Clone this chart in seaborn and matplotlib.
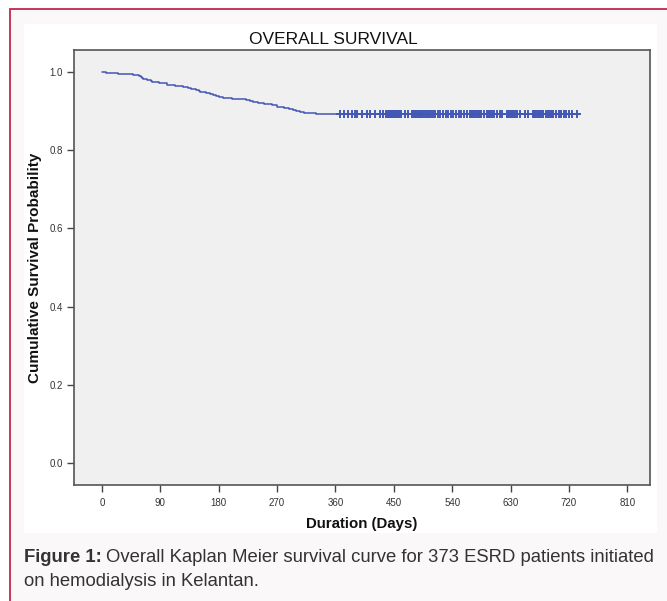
import matplotlib
matplotlib.use("Agg")
import matplotlib.pyplot as plt
from matplotlib.patches import Rectangle
from matplotlib.lines import Line2D
import seaborn as sns
import pandas as pd

# ---- data ----
death_days = [0, 6, 25, 48, 57, 60, 62, 64, 70, 76, 78, 88, 100, 112, 125, 132, 138,
              145, 149, 151, 160, 166, 171, 176, 181, 186, 200, 222, 228, 233, 240,
              250, 262, 270, 280, 289, 294, 299, 305, 312, 330, 732]
survival = [1.0, 0.9973, 0.9946, 0.9920, 0.9893, 0.9866, 0.9839, 0.9812, 0.9786,
            0.9759, 0.9732, 0.9705, 0.9678, 0.9651, 0.9625, 0.9598, 0.9571, 0.9544,
            0.9517, 0.9491, 0.9464, 0.9437, 0.9410, 0.9383, 0.9357, 0.9330, 0.9303,
            0.9276, 0.9249, 0.9223, 0.9196, 0.9169, 0.9142, 0.9115, 0.9088, 0.9062,
            0.9035, 0.9008, 0.8981, 0.8954, 0.8928, 0.8928]
censor_days = [367, 374, 379, 385, 390, 394, 401, 408, 413, 421, 428, 433,
               438, 440, 442, 443, 445, 446, 448, 449, 451, 452, 454, 455, 457, 458,
               460, 461, 467, 472,
               478, 480, 482, 485, 487, 489, 492, 494, 496, 500, 503, 505, 507, 511,
               514, 518, 522, 526, 530, 534, 538, 542, 546, 550, 554, 558, 563,
               567, 569, 570, 572, 574, 576, 578, 581, 583, 585, 589, 593, 595, 597,
               599, 601, 605, 609, 613, 617,
               624, 626, 628, 630, 632, 634, 636, 638, 640, 644, 652, 657,
               664, 666, 668, 670, 672, 674, 676, 678, 680, 684, 688, 690, 692, 694,
               696, 700, 704, 706, 708, 712, 716, 720, 724, 732]
censor_surv = 0.8928
x_ticks = [0, 90, 180, 270, 360, 450, 540, 630, 720, 810]
y_ticks = [0.0, 0.2, 0.4, 0.6, 0.8, 1.0]

title = "OVERALL SURVIVAL"
xlabel = "Duration (Days)"
ylabel = "Cumulative Survival Probability"

sns.set_theme(style="white")
plt.rcParams["font.family"] = ["Liberation Sans", "DejaVu Sans"]

W, H = 667, 601
fig = plt.figure(figsize=(W / 100, H / 100), dpi=100)
fig.patch.set_facecolor("#fbf8f9")

def fx(px):
    return px / W

def fy(py):
    return 1 - py / H

# white chart panel
fig.patches.append(Rectangle((fx(24), fy(533)), fx(657) - fx(24), fy(24) - fy(533),
                             transform=fig.transFigure, facecolor="white",
                             edgecolor="none", zorder=-10))
# outside the crimson border: white
fig.patches.append(Rectangle((0, 0), fx(9), 1, transform=fig.transFigure,
                             facecolor="white", edgecolor="none", zorder=-10))
fig.patches.append(Rectangle((0, fy(8)), 1, 1 - fy(8), transform=fig.transFigure,
                             facecolor="white", edgecolor="none", zorder=-10))
border_c = "#c7355a"
fig.lines.append(Line2D([fx(9.5), fx(9.5)], [0, fy(8.5)], transform=fig.transFigure,
                        color=border_c, lw=1.4, zorder=-5))
fig.lines.append(Line2D([fx(9.5), 1], [fy(8.5), fy(8.5)], transform=fig.transFigure,
                        color=border_c, lw=1.4, zorder=-5))

ax = fig.add_axes([fx(74), fy(485), fx(650) - fx(74), fy(50) - fy(485)])
ax.set_zorder(2)
ax.set_facecolor("#f0f0f0")

curve = pd.DataFrame({"day": death_days, "surv": survival})
cens = pd.DataFrame({"day": censor_days, "surv": [censor_surv] * len(censor_days)})

line_c = "#4358b5"
sns.lineplot(data=curve, x="day", y="surv", ax=ax, sort=False, estimator=None,
             drawstyle="steps-post", color=line_c, linewidth=1.1)
sns.scatterplot(data=cens, x="day", y="surv", ax=ax, marker="+", s=30,
                color=line_c, linewidth=1.4, zorder=3)

ax.set_xlim(-43, 845)
ax.set_ylim(-0.056, 1.056)
ax.set_xticks(x_ticks)
ax.set_xticklabels([str(v) for v in x_ticks])
ax.set_yticks(y_ticks)
ax.set_yticklabels([f"{v:.1f}" for v in y_ticks])
ax.tick_params(axis="both", which="both", direction="out", length=5, width=1,
               color="#444444", labelsize=7, labelcolor="#333333", pad=3,
               bottom=True, left=True)
ax.tick_params(axis="x", pad=4)
for sp in ax.spines.values():
    sp.set_color("#555555")
    sp.set_linewidth(1.2)
ax.set_xlabel("")
ax.set_ylabel("")

fig.text(fx(333), fy(40), title, ha="center", va="center", fontsize=12.5, color="#111111")
fig.text(fx(362), fy(524), xlabel, ha="center", va="center", fontsize=10.8,
         fontweight="bold", color="#111111")
fig.text(fx(35), fy(268), ylabel, ha="center", va="center", rotation=90,
         fontsize=11, fontweight="bold", color="#111111")

# caption
cap_y1 = fy(557)
t1 = fig.text(fx(24), cap_y1, "Figure 1:", ha="left", va="center", fontsize=13.3,
              fontweight="bold", color="#333333")
fig.canvas.draw()
bb = t1.get_window_extent()
fig.text(bb.x1 / W + fx(4), cap_y1,
         "Overall Kaplan Meier survival curve for 373 ESRD patients initiated",
         ha="left", va="center", fontsize=13.3, color="#333333")
fig.text(fx(24), fy(581), "on hemodialysis in Kelantan.", ha="left", va="center",
         fontsize=13.3, color="#333333")

fig.savefig("out.png", dpi=100, facecolor=fig.get_facecolor())
